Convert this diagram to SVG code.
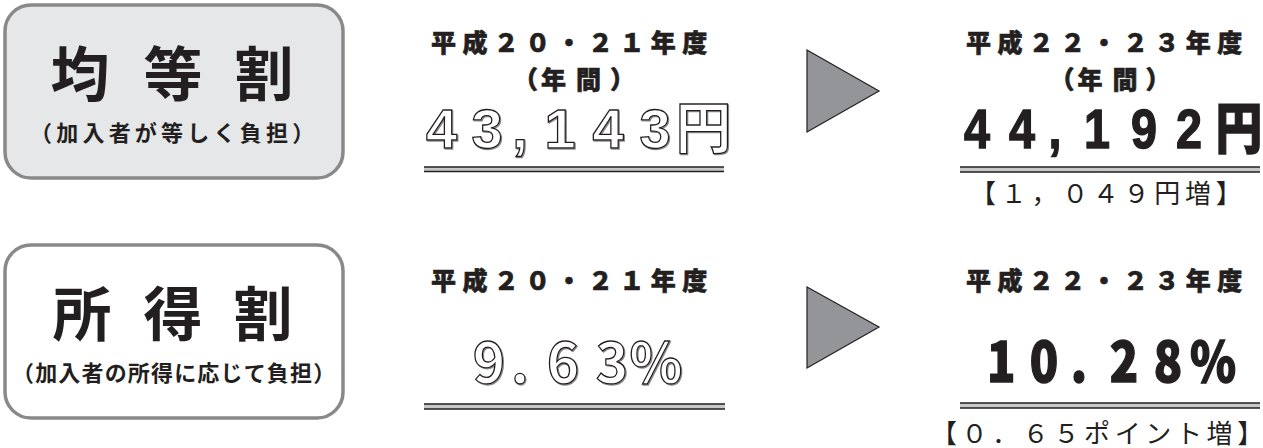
<svg xmlns="http://www.w3.org/2000/svg" width="1263" height="448" viewBox="0 0 1263 448">
<style>
text { font-family: "Noto Sans CJK JP", "Noto Sans", sans-serif; fill: #231f20; }
.box { stroke: #898989; stroke-width: 3.5; }
.title { font-size: 59px; font-weight: 700; text-anchor: middle; }
.sub { font-size: 22px; font-weight: 700; }
.head { font-size: 25px; font-weight: 900; letter-spacing: 6.4px; stroke: #231f20; stroke-width: 0.6; }
.paren { font-size: 25px; font-weight: 900; stroke: #231f20; stroke-width: 0.6; }
.outl { font-size: 55px; font-weight: 700; fill: #ffffff; stroke: #231f20; stroke-width: 1.3; text-anchor: middle; filter: url(#sh); }
.num { font-family: "Liberation Sans", "Noto Sans CJK JP", sans-serif; font-size: 56px; }
.big { font-size: 55px; font-weight: 900; text-anchor: middle; stroke: #231f20; stroke-width: 1.4; }
.inc { font-size: 26px; font-weight: 400; }
.tri { fill: #939598; stroke: #231f20; stroke-width: 1.2; stroke-linejoin: miter; }
.rule { stroke: #231f20; stroke-width: 1.6; }
.band { fill: #c8c8c8; }
</style>
<defs>
<filter id="sh" x="-10%" y="-10%" width="130%" height="130%">
<feOffset in="SourceAlpha" dx="1.3" dy="1.3" result="o"/>
<feFlood flood-color="#8a8a8a"/>
<feComposite in2="o" operator="in" result="s"/>
<feMerge><feMergeNode in="s"/><feMergeNode in="SourceGraphic"/></feMerge>
</filter>
</defs>
<rect width="1263" height="448" fill="#ffffff"/>

<g id="node-kintou">
<rect class="box" x="5" y="5" width="338" height="173" rx="26" fill="#e6e7e8"/>
<text class="title" x="80 173 264" y="96">均等割</text>
<text class="sub" x="30" y="141" dx="0 4.2 4.2 4.2 4.2 4.2 4.2 4.2 4.2 4.2 4.2">（加入者が等しく負担）</text>
</g>

<g id="node-shotoku">
<rect class="box" x="5" y="245" width="338" height="173" rx="26" fill="#ffffff"/>
<text class="title" x="82 173 263" y="336">所得割</text>
<text class="sub" x="12" y="381" dx="0 1.15 1.15 1.15 1.15 1.15 1.15 1.15 1.15 1.15 1.15 1.15 1.15 1.15">（加入者の所得に応じて負担）</text>
</g>

<g id="node-kintou-old">
<text class="head" x="431" y="52">平成２０・２１年度</text>
<text class="paren" x="513" y="89" dx="0 3 10 9">（年間）</text>
<text class="outl num" x="441.5 487 520 560 608 655 703.5" y="148">43,143円</text>
<rect class="band" x="424" y="167" width="300" height="4"/>
<line class="rule" x1="424" y1="167" x2="724" y2="167"/>
<line class="rule" x1="424" y1="171.5" x2="724" y2="171.5"/>
</g>

<g id="node-kintou-new">
<text class="head" x="966" y="52">平成２２・２３年度</text>
<text class="paren" x="1049.5" y="89" dx="0 3 10 8">（年間）</text>
<g transform="scale(0.85,1)">
<text class="big num" x="1149.4 1202.4 1241.2 1290.6 1345.9 1398.8 1457.6" y="148">44,192円</text>
</g>
<rect class="band" x="960" y="167" width="300" height="5"/>
<line class="rule" x1="960" y1="167" x2="1260" y2="167"/>
<line class="rule" x1="960" y1="172" x2="1260" y2="172"/>
<text class="inc" x="970" y="203" dx="0 4.7 4.7 4.7 4.7 4.7 4.7 4.7 4.7">【１，０４９円増】</text>
</g>

<g id="node-shotoku-old">
<text class="head" x="431" y="290">平成２０・２１年度</text>
<text class="outl" x="489 520 563 612 656" y="383">9.63%</text>
<rect class="band" x="424" y="404" width="301" height="5"/>
<line class="rule" x1="424" y1="404" x2="725" y2="404"/>
<line class="rule" x1="424" y1="409" x2="725" y2="409"/>
</g>

<g id="node-shotoku-new">
<text class="head" x="966" y="290">平成２２・２３年度</text>
<g transform="scale(0.85,1)">
<text class="big" x="1178 1228.2 1269.4 1322.4 1374.1 1427.1" y="382">10.28%</text>
</g>
<rect class="band" x="960" y="403" width="300" height="5"/>
<line class="rule" x1="960" y1="403" x2="1260" y2="403"/>
<line class="rule" x1="960" y1="408" x2="1260" y2="408"/>
<text class="inc" x="931" y="443" dx="0 4.6 4.6 4.6 4.6 4.6 4.6 4.6 4.6 4.6 4.6">【０．６５ポイント増】</text>
</g>

<g id="connectors">
<polygon class="tri" points="807,50 879,91 807,132"/>
<polygon class="tri" points="807,287 879,327 807,368"/>
</g>
</svg>
